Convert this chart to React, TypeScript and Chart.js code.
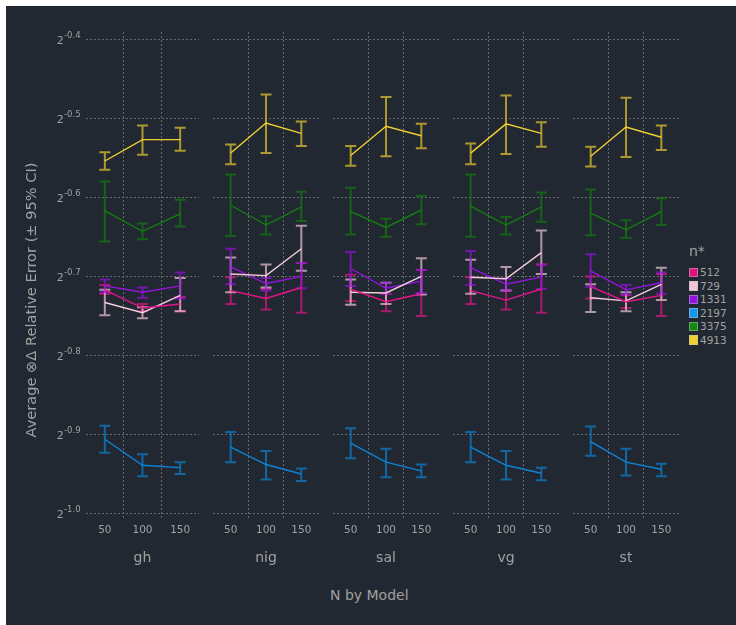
import React, { useEffect, useRef } from 'react';
import { Chart, registerables } from 'chart.js';

Chart.register(...registerables);

// ---------- data (log2 of the average relative error) ----------
const models = ['gh', 'nig', 'sal', 'vg', 'st'];
const nLabels = ['50', '100', '150'];
const seriesNames = ['512', '729', '1331', '2197', '3375', '4913'];
const yTickExponents = [-0.4, -0.5, -0.6, -0.7, -0.8, -0.9, -1.0];
const yTickLabels = ['-0.4', '-0.5', '-0.6', '-0.7', '-0.8', '-0.9', '-1.0'];
const yTitle = 'Average ⊗Δ Relative Error (± 95% CI)';
const xTitle = 'N by Model';
const legendTitle = 'n*';

// order: gh(50,100,150), nig(...), sal(...), vg(...), st(...)
const mean512 = [-0.717, -0.740, -0.735, -0.718, -0.728, -0.714, -0.716, -0.732, -0.722, -0.718, -0.730, -0.716, -0.713, -0.732, -0.724];
const lo512 = [-0.722, -0.744, -0.744, -0.735, -0.742, -0.746, -0.731, -0.744, -0.750, -0.735, -0.742, -0.746, -0.728, -0.740, -0.750];
const hi512 = [-0.711, -0.735, -0.726, -0.701, -0.716, -0.683, -0.698, -0.722, -0.692, -0.701, -0.718, -0.685, -0.700, -0.724, -0.697];

const mean729 = [-0.733, -0.746, -0.724, -0.697, -0.699, -0.665, -0.720, -0.721, -0.700, -0.701, -0.703, -0.670, -0.727, -0.731, -0.710];
const lo729 = [-0.749, -0.753, -0.744, -0.720, -0.714, -0.693, -0.736, -0.735, -0.723, -0.722, -0.718, -0.697, -0.745, -0.744, -0.730];
const hi729 = [-0.717, -0.739, -0.702, -0.676, -0.685, -0.636, -0.704, -0.708, -0.677, -0.679, -0.688, -0.642, -0.710, -0.720, -0.689];

const mean1331 = [-0.712, -0.720, -0.712, -0.688, -0.709, -0.700, -0.690, -0.715, -0.706, -0.689, -0.710, -0.701, -0.693, -0.717, -0.708];
const lo1331 = [-0.720, -0.727, -0.728, -0.710, -0.718, -0.715, -0.712, -0.722, -0.721, -0.711, -0.718, -0.716, -0.713, -0.723, -0.722];
const hi1331 = [-0.704, -0.714, -0.695, -0.665, -0.702, -0.683, -0.669, -0.708, -0.692, -0.668, -0.703, -0.685, -0.672, -0.711, -0.695];

const mean2197 = [-0.906, -0.939, -0.942, -0.916, -0.938, -0.950, -0.911, -0.935, -0.946, -0.916, -0.939, -0.949, -0.909, -0.935, -0.944];
const lo2197 = [-0.923, -0.953, -0.950, -0.935, -0.957, -0.959, -0.930, -0.954, -0.954, -0.935, -0.957, -0.958, -0.927, -0.952, -0.953];
const hi2197 = [-0.889, -0.925, -0.935, -0.897, -0.921, -0.943, -0.892, -0.918, -0.938, -0.897, -0.921, -0.942, -0.890, -0.918, -0.937];

const mean3375 = [-0.617, -0.643, -0.621, -0.610, -0.635, -0.612, -0.618, -0.638, -0.616, -0.611, -0.635, -0.612, -0.620, -0.641, -0.618];
const lo3375 = [-0.656, -0.653, -0.637, -0.649, -0.647, -0.630, -0.647, -0.650, -0.634, -0.650, -0.647, -0.631, -0.648, -0.651, -0.635];
const hi3375 = [-0.580, -0.633, -0.603, -0.571, -0.624, -0.593, -0.588, -0.627, -0.598, -0.571, -0.625, -0.594, -0.590, -0.629, -0.601];

const mean4913 = [-0.554, -0.527, -0.527, -0.544, -0.506, -0.519, -0.547, -0.510, -0.522, -0.544, -0.507, -0.519, -0.548, -0.511, -0.524];
const lo4913 = [-0.565, -0.546, -0.541, -0.558, -0.544, -0.535, -0.560, -0.548, -0.538, -0.558, -0.545, -0.536, -0.561, -0.549, -0.540];
const hi4913 = [-0.543, -0.509, -0.512, -0.533, -0.470, -0.504, -0.535, -0.473, -0.507, -0.532, -0.471, -0.505, -0.536, -0.474, -0.509];

const seriesMeans = [mean512, mean729, mean1331, mean2197, mean3375, mean4913];
const seriesLo = [lo512, lo729, lo1331, lo2197, lo3375, lo4913];
const seriesHi = [hi512, hi729, hi1331, hi2197, hi3375, hi4913];

// ---------- styles ----------
const seriesColors = ['#e6148c', '#f5cddb', '#9612de', '#0b84d8', '#127e12', '#f0d030'];
const legendColors = ['#e0127f', '#f4c4d4', '#9412e0', '#1496ee', '#128a12', '#f0d030'];
const BG = '#222831';
const TEXT = '#a1a1a1';
const GRID = '#686a6e';
const FONT = '"DejaVu Sans", sans-serif';

Chart.defaults.font.family = FONT;

const pow2 = (e: number) => Math.pow(2, e);

const errorBarPlugin = {
  id: 'errorBars',
  beforeDatasetsDraw(chart: any) {
    const { ctx } = chart;
    const x = chart.scales.x;
    const y = chart.scales.y;
    chart.data.datasets.forEach((ds: any) => {
      ctx.save();
      ctx.strokeStyle = ds.borderColor;
      ctx.globalAlpha = 0.68;
      ctx.lineWidth = 2;
      ds.lo.forEach((lo: number, i: number) => {
        const px = x.getPixelForValue(i);
        const y1 = y.getPixelForValue(lo);
        const y2 = y.getPixelForValue(ds.hi[i]);
        ctx.beginPath();
        ctx.moveTo(px, y1);
        ctx.lineTo(px, y2);
        ctx.moveTo(px - 5.5, y1);
        ctx.lineTo(px + 5.5, y1);
        ctx.moveTo(px - 5.5, y2);
        ctx.lineTo(px + 5.5, y2);
        ctx.stroke();
      });
      ctx.restore();
    });
  },
};

const yLabelPlugin = {
  id: 'yLabels',
  afterDraw(chart: any) {
    const { ctx } = chart;
    const y = chart.scales.y;
    ctx.save();
    ctx.fillStyle = TEXT;
    ctx.textBaseline = 'middle';
    yTickExponents.forEach((e, i) => {
      const py = y.getPixelForValue(pow2(e));
      ctx.font = '11px ' + FONT;
      ctx.textAlign = 'right';
      ctx.fillText('2', 57.8, py + 1.5);
      ctx.font = '8.5px ' + FONT;
      ctx.textAlign = 'left';
      ctx.fillText(yTickLabels[i], 58, py - 3.5);
    });
    // axis title
    ctx.translate(25.8, 294);
    ctx.rotate(-Math.PI / 2);
    ctx.font = '14.6px ' + FONT;
    ctx.textAlign = 'center';
    ctx.fillText(yTitle, 0, 0);
    ctx.restore();
  },
};

const panelGeom = [
  { left: 0, width: 200, padL: 0, padR: 7, yWidth: 80 },
  { left: 200, width: 120, padL: 7, padR: 7, yWidth: 0 },
  { left: 320, width: 120, padL: 7, padR: 7, yWidth: 0 },
  { left: 440, width: 120, padL: 7, padR: 7, yWidth: 0 },
  { left: 560, width: 120, padL: 7, padR: 7, yWidth: 0 },
];
const CANVAS_H = 561;

function Panel({ index }: { index: number }) {
  const ref = useRef<HTMLCanvasElement>(null);
  const g = panelGeom[index];
  const first = index === 0;
  useEffect(() => {
    if (!ref.current) return;
    const s = index * 3;
    const datasets = seriesNames.map((name, si) => ({
      label: name,
      data: seriesMeans[si].slice(s, s + 3).map(pow2),
      lo: seriesLo[si].slice(s, s + 3).map(pow2),
      hi: seriesHi[si].slice(s, s + 3).map(pow2),
      borderColor: seriesColors[si],
      backgroundColor: seriesColors[si],
      borderWidth: 1.4,
      pointRadius: 0,
      tension: 0,
      fill: false,
    }));
    const chart = new Chart(ref.current, {
      type: 'line',
      data: { labels: nLabels, datasets: datasets as any },
      options: {
        animation: false,
        responsive: false,
        maintainAspectRatio: false,
        events: [],
        layout: { padding: { left: g.padL, right: g.padR, top: 26, bottom: 0 } },
        plugins: { legend: { display: false }, tooltip: { enabled: false } },
        scales: {
          x: {
            type: 'category',
            offset: true,
            grid: {
              offset: true,
              drawTicks: false,
              lineWidth: 1,
              color: (c: any) =>
                c.type !== 'tick' || c.index === 0 || c.index >= nLabels.length ? 'rgba(0,0,0,0)' : GRID,
            },
            border: { display: false, dash: [2, 2] },
            ticks: { color: TEXT, font: { size: 10.5, family: FONT }, padding: 4, maxRotation: 0 },
            title: {
              display: true,
              text: models[index],
              color: TEXT,
              font: { size: 14, family: FONT },
              padding: { top: 0, bottom: 0 },
            },
            afterFit: (scale: any) => {
              scale.height = 47;
            },
          },
          y: {
            type: 'logarithmic',
            min: pow2(-1.0082),
            max: pow2(-0.3908),
            bounds: 'data',
            grid: { drawTicks: false, color: GRID, lineWidth: 1 },
            border: { display: false, dash: [2, 2] },
            ticks: { display: false },
            title: { display: false },
            afterBuildTicks: (scale: any) => {
              scale.ticks = yTickExponents.map((e) => ({ value: pow2(e) }));
            },
            afterFit: (scale: any) => {
              scale.width = g.yWidth;
            },
          },
        },
      } as any,
      plugins: first ? [errorBarPlugin, yLabelPlugin] : [errorBarPlugin],
    });
    return () => chart.destroy();
  }, []);
  return (
    <canvas
      ref={ref}
      width={g.width}
      height={CANVAS_H}
      style={{ position: 'absolute', left: g.left, top: 0, width: g.width, height: CANVAS_H }}
    />
  );
}

export default function App() {
  const rowTop0 = 260.2;
  const rowStep = 13.5;
  return (
    <div
      style={{
        position: 'absolute',
        left: 6,
        top: 6,
        width: 730,
        height: 619,
        background: BG,
        overflow: 'hidden',
        fontFamily: FONT,
        color: TEXT,
      }}
    >
      {models.map((m, i) => (
        <Panel key={m} index={i} />
      ))}
      <div
        style={{
          position: 'absolute',
          left: 263.3,
          width: 200,
          top: 581.2,
          textAlign: 'center',
          fontSize: 14,
          lineHeight: '16px',
          whiteSpace: 'nowrap',
        }}
      >
        {xTitle}
      </div>
      <div style={{ position: 'absolute', left: 683, top: 237, fontSize: 14, lineHeight: '16px' }}>{legendTitle}</div>
      {seriesNames.map((name, i) => (
        <React.Fragment key={name}>
          <div
            style={{
              position: 'absolute',
              left: 682.7,
              top: 261.7 + i * rowStep,
              width: 9.5,
              height: 9.5,
              boxSizing: 'border-box',
              background: legendColors[i],
              border: '1.5px solid rgba(190,190,190,0.5)',
            }}
          />
          <div
            style={{
              position: 'absolute',
              left: 694,
              top: rowTop0 + i * rowStep,
              fontSize: 10.5,
              lineHeight: '13px',
              whiteSpace: 'nowrap',
            }}
          >
            {name}
          </div>
        </React.Fragment>
      ))}
    </div>
  );
}
